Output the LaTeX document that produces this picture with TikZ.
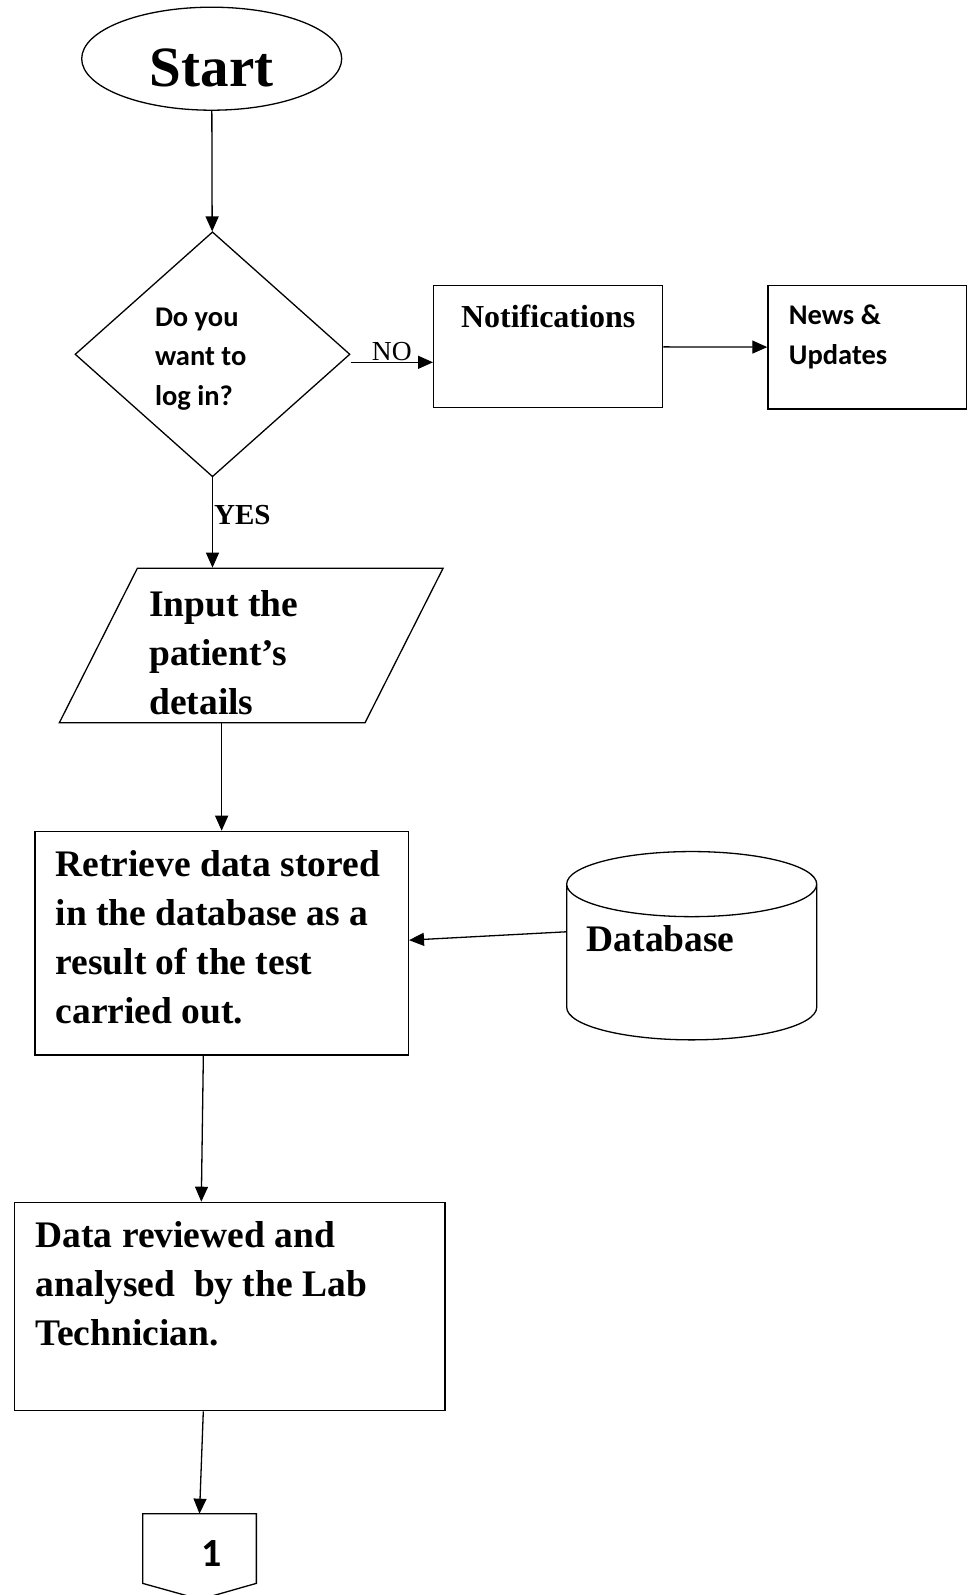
\documentclass[tikz,border=0pt]{standalone}
\usepackage{fontspec}
\setmainfont{Liberation Serif}
\newfontfamily\calibri{Carlito}
\usetikzlibrary{arrows.meta}
\usetikzlibrary{shapes.geometric}

\begin{document}
\begin{tikzpicture}[
        x=1pt, y=-1pt, line width=1.3pt,
        serifbold/.style={font=\bfseries\fontsize{37.5}{49}\selectfont},
        sansbold/.style={font=\calibri\bfseries\fontsize{28.5}{39.5}\selectfont},
        fixedrect/.style={rectangle,draw,anchor=north west,inner ysep=0pt,align=flush left},
        arr/.style={-{Triangle[length=15pt,width=13pt]}},
        ]
        \useasboundingbox (0,0) rectangle (972,1595);

        \node[ellipse, draw, minimum width=260pt, minimum height=103pt, inner sep=2pt,
              text height=56pt, text depth=0pt, font=\bfseries\fontsize{57}{68}\selectfont](start) at (211.7,58.7){Start};
        \node[diamond, draw, aspect=1, minimum width=275pt, minimum height=245pt, inner sep=0pt,
              text width=115pt, align=flush left, text height=30pt, text depth=86.6pt, sansbold](login) at (212.5,354.3){Do you\\want to\\log in?};
        \node[fixedrect, align=center, inner xsep=0pt, text width=229pt, text height=41.7pt, text depth=80.3pt,
              font=\bfseries\fontsize{32}{38}\selectfont](notif) at (433,285){Notifications};
        \node[fixedrect, sansbold, inner xsep=21pt, text width=156.4pt, text height=39pt, text depth=84.3pt](news) at (767.3,285){News \&\\Updates};

        \node[trapezium, draw, trapezium left angle=63.2, trapezium right angle=116.8, inner xsep=12pt, inner ysep=0pt,
              text width=203.7pt, align=flush left, text height=47.7pt, text depth=106.7pt, serifbold](input) at (251.2,645.5){Input the\\patient’s\\details};
        \node[fixedrect, serifbold, inner xsep=20.7pt, text width=332pt, text height=45.3pt, text depth=178.3pt](retrieve) at (34.3,830.7){Retrieve data stored\\in the database as a\\result of the test\\carried out.};
        \node[cylinder, draw, shape border rotate=90, aspect=0.31, minimum width=250pt, minimum height=188.3pt, inner sep=0pt,
              text width=210pt, align=flush left, text height=26pt, text depth=47pt, serifbold](db) at (691.7,962.3){Database};
        \node[fixedrect, serifbold, inner xsep=21pt, text width=388.3pt, text height=45pt, text depth=163.3pt](review) at (14,1201.7){Data reviewed and\\analysed~ by the Lab\\Technician.};

        % off-page connector
        \node[minimum width=112.4pt, minimum height=68.4pt, inner sep=0pt, text width=44.4pt, align=right,
              text height=36pt, text depth=0pt, font=\calibri\bfseries\fontsize{40}{48}\selectfont](page) at (199.5,1548.5){1};
        \draw (page.south west) -- (page.north west) -- (page.north east) -- (page.south east) -- ++(-56.2,16) -- cycle;

        \draw[arr] (start) -- (login);
        \draw[arr] ([yshift=-8pt]login.east) -- ([yshift=-8pt]login.east -| notif.west)
            node[midway, above, inner sep=1pt, font=\fontsize{27.5}{33}\selectfont]{NO};
        \draw[arr] (notif) -- (news);
        \draw[arr] (login.south) -- (login.south |- input.north)
            node[pos=.42, right, inner sep=1pt, font=\bfseries\fontsize{29}{35}\selectfont]{YES};
        \draw[arr] (input.south -| retrieve.north) -- (retrieve.north);
        \draw[arr] ([yshift=30.5pt]db.west) -- ([yshift=3pt]retrieve.east);
        \draw[arr] ([xshift=-18.3pt]retrieve.south) -- ([xshift=-28.5pt]review.north);
        \draw[arr] ([xshift=-26.5pt]review.south) -- (page.north);
\end{tikzpicture}
\end{document}
